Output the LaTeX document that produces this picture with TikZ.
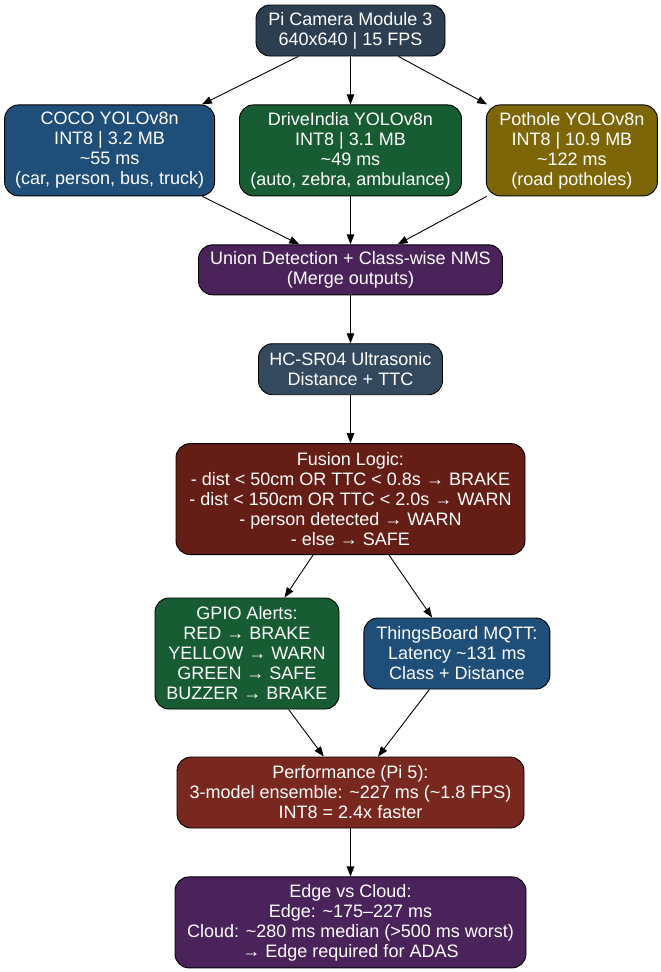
\documentclass[tikz,border=0pt]{standalone}
\usepackage{fontspec}
\setmainfont{Liberation Sans}
\usetikzlibrary{arrows.meta, positioning}

\definecolor{camslate}{HTML}{2C3E50}
\definecolor{cocoblue}{HTML}{1F4E79}
\definecolor{drivegreen}{HTML}{185C33}
\definecolor{potholeolive}{HTML}{7D6608}
\definecolor{unionpurple}{HTML}{4A235A}
\definecolor{sonarslate}{HTML}{34495E}
\definecolor{fusionred}{HTML}{641E16}
\definecolor{perfred}{HTML}{78281F}

\begin{document}
\begin{tikzpicture}[
    x=1pt, y=1pt,
    node distance=48pt and 24pt,
    box/.style={
        rectangle,
        draw=black,
        line width=0.9pt,
        rounded corners=14pt,
        text=white,
        font=\fontsize{18}{20}\selectfont,
        align=center,
        inner sep=0pt
    },
    line/.style={draw=black, line width=0.9pt, -{Triangle[length=10pt, width=7.5pt]}}
]
\useasboundingbox (0,0) rectangle (661,-972);

% Camera
\node[box, fill=camslate, minimum width=189pt, minimum height=51pt] (camera) at (350.5,-30.5) {
    Pi Camera Module 3\\
    640x640 | 15 FPS
};

% Detector models
\node[box, fill=drivegreen, minimum width=222pt, minimum height=91pt, below=48pt of camera] (drive) {
    DriveIndia YOLOv8n\\
    INT8 | 3.1 MB\\
    \textasciitilde49 ms\\
    (auto, zebra, ambulance)
};
\node[box, fill=cocoblue, minimum width=210pt, minimum height=91pt, left=24pt of drive] (coco) {
    COCO YOLOv8n\\
    INT8 | 3.2 MB\\
    \textasciitilde55 ms\\
    (car, person, bus, truck)
};
\node[box, fill=potholeolive, minimum width=171pt, minimum height=91pt, right=24pt of drive] (pothole) {
    Pothole YOLOv8n\\
    INT8 | 10.9 MB\\
    \textasciitilde122 ms\\
    (road potholes)
};

% Merge + sensor + fusion
\node[box, fill=unionpurple, minimum width=304pt, minimum height=50pt, below=48pt of drive] (union) {
    Union Detection + Class-wise NMS\\
    (Merge outputs)
};
\node[box, fill=sonarslate, minimum width=184pt, minimum height=51pt, below=48pt of union] (sonar) {
    HC-SR04 Ultrasonic\\
    Distance + TTC
};
\node[box, fill=fusionred, minimum width=349pt, minimum height=111pt, below=48pt of sonar] (fusion) {
    Fusion Logic:\\
    - dist < 50cm OR TTC < 0.8s → BRAKE\\
    - dist < 150cm OR TTC < 2.0s → WARN\\
    - person detected → WARN\\
    - else → SAFE
};

% Outputs
\node[box, fill=drivegreen, minimum width=184pt, minimum height=111pt] (gpio) at (247,-653.5) {
    GPIO Alerts:\\
    RED → BRAKE\\
    YELLOW → WARN\\
    GREEN → SAFE\\
    BUZZER → BRAKE
};
\node[box, fill=cocoblue, minimum width=186pt, minimum height=71pt, right=24pt of gpio] (mqtt) {
    ThingsBoard MQTT:\\
    Latency \textasciitilde131 ms\\
    Class + Distance
};

% Summary
\node[box, fill=perfred, minimum width=347pt, minimum height=71pt] (perf) at (350.5,-792.5) {
    Performance (Pi 5):\\
    3-model ensemble: \textasciitilde227 ms (\textasciitilde1.8 FPS)\\
    INT8 = 2.4x faster
};
\node[box, fill=unionpurple, minimum width=351pt, minimum height=91pt, below=48pt of perf] (edge) {
    Edge vs Cloud:\\
    Edge: \textasciitilde175–227 ms\\
    Cloud: \textasciitilde280 ms median (>500 ms worst)\\
    → Edge required for ADAS
};

% Connectors
\path[line] (camera) -- (coco);
\path[line] (camera) -- (drive);
\path[line] (camera) -- (pothole);
\path[line] (coco) -- (union);
\path[line] (drive) -- (union);
\path[line] (pothole) -- (union);
\path[line] (union) -- (sonar);
\path[line] (sonar) -- (fusion);
\path[line] (fusion) -- (gpio);
\path[line] (fusion) -- (mqtt);
\path[line] (gpio) -- (perf);
\path[line] (mqtt) -- (perf);
\path[line] (perf) -- (edge);

\end{tikzpicture}
\end{document}
